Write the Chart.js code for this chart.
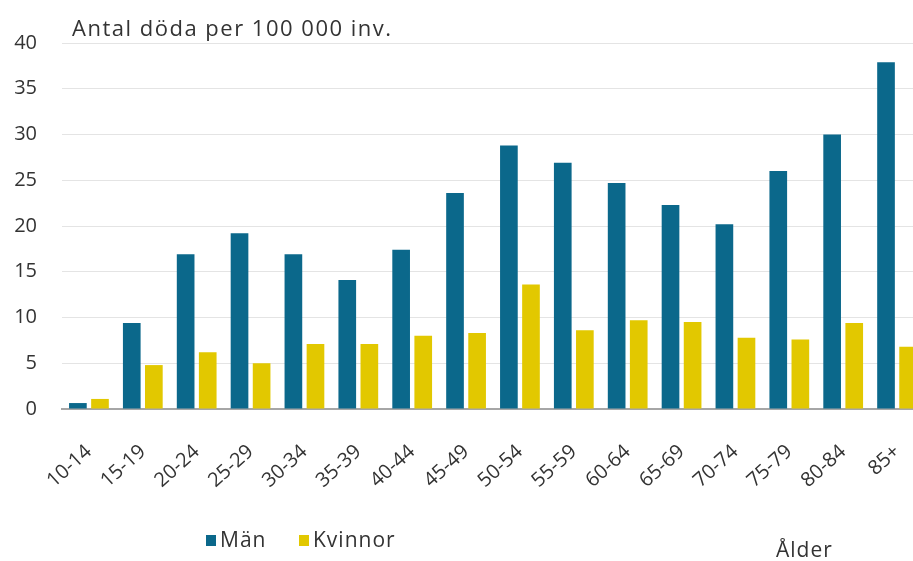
<!DOCTYPE html>
<html lang="sv">
<head>
<meta charset="utf-8">
<title>Antal döda per 100 000 inv.</title>
<script src="https://cdn.jsdelivr.net/npm/chart.js@4/dist/chart.umd.min.js"></script>
<style>
  html, body { margin: 0; padding: 0; background: #fff; overflow: hidden; }
  #wrap { width: 913px; height: 561px; overflow: hidden; position: relative; }
  #box { width: 926px; height: 561px; position: absolute; left: 0; top: 0; }
</style>
</head>
<body>
<div id="wrap"><div id="box"><canvas id="chart"></canvas></div></div>
<script>
// Åldersgrupper
const ageGroups = ['10-14','15-19','20-24','25-29','30-34','35-39','40-44','45-49',
                   '50-54','55-59','60-64','65-69','70-74','75-79','80-84','85+'];
// Antal döda per 100 000 invånare
const men   = [0.65, 9.4, 16.9, 19.2, 16.9, 14.1, 17.4, 23.6, 28.8, 26.9, 24.7, 22.3, 20.2, 26.0, 30.0, 37.9];
const women = [1.1, 4.8, 6.2, 5.0, 7.1, 7.1, 8.0, 8.3, 13.6, 8.6, 9.7, 9.5, 7.8, 7.6, 9.4, 6.8];
const yTicks = [0, 5, 10, 15, 20, 25, 30, 35, 40];

const seriesNames = ['Män', 'Kvinnor'];
const colors = ['#0b688b', '#e2c800'];
const titleText = 'Antal döda per 100 000 inv.';
const axisText = 'Ålder';

const FONT = '"Open Sans", "Noto Sans", sans-serif';
const TEXT = '#333333';

// Rubrik, axeltext och teckenförklaring ritas på canvas
const annotations = {
  id: 'annotations',
  afterDraw(chart) {
    const ctx = chart.ctx;
    ctx.save();
    ctx.fillStyle = TEXT;
    ctx.textBaseline = 'alphabetic';
    ctx.textAlign = 'left';
    ctx.letterSpacing = '1.5px';
    ctx.font = '22px ' + FONT;
    ctx.fillText(titleText, 72, 36);
    ctx.letterSpacing = '1px';
    ctx.font = '21px ' + FONT;
    ctx.fillText(axisText, 776, 557);

    // teckenförklaring
    const slots = [206, 299];
    const y = 541;
    chart.data.datasets.forEach((ds, i) => {
      const x = slots[i];
      ctx.fillStyle = ds.backgroundColor;
      ctx.fillRect(x, y - 6, 10, 11);
      ctx.fillStyle = TEXT;
      ctx.textBaseline = 'middle';
      ctx.font = '21px ' + FONT;
      ctx.fillText(ds.label, x + 14, y);
    });
    ctx.restore();
  }
};

new Chart(document.getElementById('chart'), {
  type: 'bar',
  data: {
    labels: ageGroups,
    datasets: [
      { label: seriesNames[0], data: men,   backgroundColor: colors[0] },
      { label: seriesNames[1], data: women, backgroundColor: colors[1] }
    ]
  },
  options: {
    responsive: true,
    maintainAspectRatio: false,
    animation: false,
    devicePixelRatio: 1,
    layout: { padding: { top: 43, bottom: 52, left: 0, right: 2 } },
    datasets: { bar: { barPercentage: 0.8, categoryPercentage: 0.82 } },
    plugins: { legend: { display: false }, tooltip: { enabled: false } },
    scales: {
      x: {
        grid: { display: false },
        border: { display: true, color: '#a6a6a6', width: 2 },
        ticks: {
          color: TEXT,
          font: { family: FONT, size: 20 },
          minRotation: 42, maxRotation: 42,
          padding: 23
        },
        afterFit(scale) {
          scale.height = 100;
          scale.paddingLeft = 0;
          scale.paddingRight = 0;
        }
      },
      y: {
        min: 0, max: 40,
        afterBuildTicks(scale) { scale.ticks = yTicks.map(v => ({ value: v })); },
        grid: { color: '#e4e4e4', lineWidth: 1, drawTicks: false },
        border: { display: false },
        ticks: {
          color: TEXT,
          font: { family: FONT, size: 20 },
          padding: 25
        },
        afterFit(scale) { scale.width = 62; }
      }
    }
  },
  plugins: [annotations]
});
</script>
</body>
</html>
